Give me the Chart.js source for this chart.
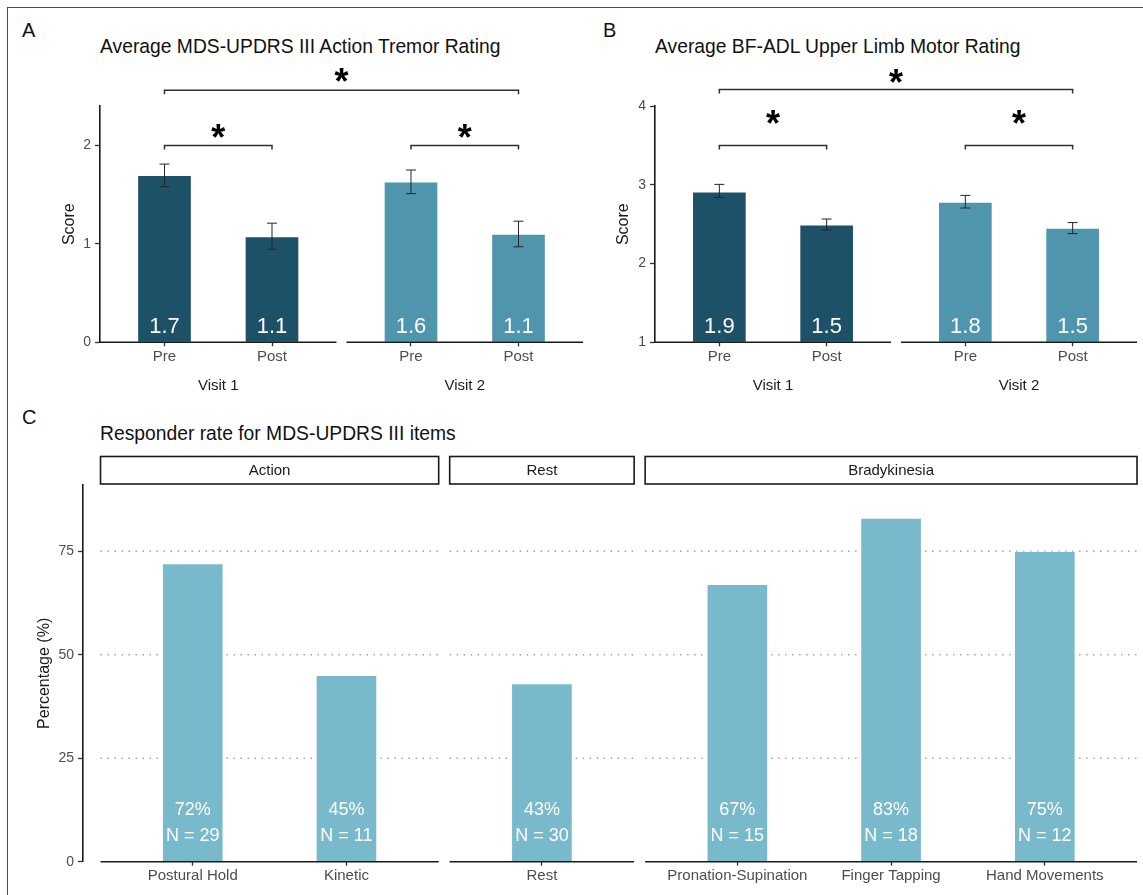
<!DOCTYPE html>
<html><head><meta charset="utf-8">
<script src="https://cdn.jsdelivr.net/npm/chart.js@4.4.1/dist/chart.umd.min.js"></script>
<style>
html,body{margin:0;padding:0;background:#fff;width:1143px;height:895px;overflow:hidden;font-family:"Liberation Sans",Arial,sans-serif;}
#frame{position:absolute;left:7px;top:7px;width:1300px;height:1000px;border-left:1.5px solid #2f5b47;border-top:1.5px solid #2f5b47;}
canvas{position:absolute;}
.lbl{position:absolute;font-size:20px;line-height:20px;color:#111;white-space:nowrap;}
.ttl{position:absolute;font-size:19.3px;line-height:19px;color:#111;white-space:nowrap;}
</style></head><body>
<div id="frame"></div>
<div class="lbl" style="left:22px;top:20px">A</div>
<div class="ttl" style="left:100px;top:37px">Average MDS-UPDRS III Action Tremor Rating</div>
<div class="lbl" style="left:603px;top:20px">B</div>
<div class="ttl" style="left:655px;top:37px">Average BF-ADL Upper Limb Motor Rating</div>
<div class="lbl" style="left:22px;top:407px">C</div>
<div class="ttl" style="left:100px;top:424px">Responder rate for MDS-UPDRS III items</div>
<canvas id="cA" width="590" height="400" style="left:0;top:0"></canvas>
<canvas id="cB" width="558" height="400" style="left:585px;top:0"></canvas>
<canvas id="cC" width="1143" height="495" style="left:0;top:400px"></canvas>
<script>
// ---------------- data ----------------
const visitFacets = ['Visit 1', 'Visit 2'];
const visitCats = ['Pre', 'Post'];

// Panel A: MDS-UPDRS III action tremor
const meanA  = [1.695, 1.075, 1.63, 1.10];
const errLoA = [1.58, 0.945, 1.51, 0.97];
const errHiA = [1.81, 1.21, 1.75, 1.23];
const textA  = ['1.7', '1.1', '1.6', '1.1'];
const yTicksA = [0, 1, 2];
const bracketsA = [
  {from: 0, to: 1, y: 2.0, ly: 2.15, text: '*'},
  {from: 2, to: 3, y: 2.0, ly: 2.15, text: '*'},
  {from: 0, to: 3, y: 2.56, ly: 2.71, text: '*'}
];

// Panel B: BF-ADL upper limb
const meanB  = [2.91, 2.49, 2.78, 2.45];
const errLoB = [2.84, 2.425, 2.705, 2.38];
const errHiB = [3.005, 2.565, 2.865, 2.52];
const textB  = ['1.9', '1.5', '1.8', '1.5'];
const yTicksB = [1, 2, 3, 4];
const bracketsB = [
  {from: 0, to: 1, y: 3.5, ly: 3.855, text: '*'},
  {from: 2, to: 3, y: 3.5, ly: 3.855, text: '*'},
  {from: 0, to: 3, y: 4.21, ly: 4.38, text: '*'}
];

// Panel C: responder rates
const facetsC = ['Action', 'Rest', 'Bradykinesia'];
const catsC = [['Postural Hold', 'Kinetic'], ['Rest'], ['Pronation-Supination', 'Finger Tapping', 'Hand Movements']];
const pctC = [72, 45, 43, 67, 83, 75];
const nC   = [29, 11, 30, 15, 18, 12];
const yTicksC = [0, 25, 50, 75];
const gridC = [25, 50, 75];

// ---------------- helpers ----------------
const FONT = "'Liberation Sans', Arial, sans-serif";
const EXP = 0.6;
const DARK = '#1d5168', LIGHT = '#5095ae', TEAL = '#78bacb';

function facetLayout(facetCats, lead, gap) {
  let x = lead; const pos = [], fr = [];
  facetCats.forEach((cats, f) => {
    if (f > 0) x += gap;
    const s = x;
    cats.forEach((c, i) => pos.push(s + EXP + i));
    x = s + cats.length - 1 + 2 * EXP;
    fr.push({start: s, end: x});
  });
  return {pos, fr, end: x};
}

function makeFacetPlugin(o, L) {
  return {
    id: 'facet',
    beforeDatasetsDraw(chart) {
      const {ctx, scales: {x, y}} = chart;
      if (o.grid) {
        ctx.save();
        ctx.strokeStyle = '#9c9c9c'; ctx.lineWidth = 1.4; ctx.setLineDash([1.4, 5.6]);
        L.fr.forEach(f => {
          const x0 = x.getPixelForValue(f.start), x1 = x.getPixelForValue(f.end);
          o.grid.forEach(g => {
            const py = y.getPixelForValue(g);
            ctx.beginPath(); ctx.moveTo(x0, py); ctx.lineTo(x1, py); ctx.stroke();
          });
        });
        ctx.restore();
      }
    },
    afterDatasetsDraw(chart) {
      const {ctx, chartArea: ca, scales: {x, y}} = chart;
      ctx.save();
      // error bars
      if (o.errLo) {
        ctx.strokeStyle = '#262626'; ctx.lineWidth = 1;
        o.errLo.forEach((lo, i) => {
          const px = x.getPixelForValue(L.pos[i]);
          const y0 = y.getPixelForValue(lo), y1 = y.getPixelForValue(o.errHi[i]);
          ctx.beginPath();
          ctx.moveTo(px, y0); ctx.lineTo(px, y1);
          ctx.moveTo(px - 5, y0); ctx.lineTo(px + 5, y0);
          ctx.moveTo(px - 5, y1); ctx.lineTo(px + 5, y1);
          ctx.stroke();
        });
      }
      // bar texts
      ctx.fillStyle = '#ffffff'; ctx.textAlign = 'center'; ctx.textBaseline = 'middle';
      if (o.barText) {
        ctx.font = '22px ' + FONT;
        o.barText.forEach((t, i) => ctx.fillText(t, x.getPixelForValue(L.pos[i]), ca.bottom - 15.6));
      }
      if (o.pct) {
        ctx.font = '18px ' + FONT;
        o.pct.forEach((p, i) => {
          const px = x.getPixelForValue(L.pos[i]);
          ctx.fillText(p + '%', px, ca.bottom - 51.7);
          ctx.fillText('N = ' + o.n[i], px, ca.bottom - 26);
        });
      }
      // x axis segments per facet
      ctx.strokeStyle = '#1a1a1a'; ctx.lineWidth = 1.6;
      L.fr.forEach(f => {
        ctx.beginPath();
        ctx.moveTo(x.getPixelForValue(f.start), ca.bottom);
        ctx.lineTo(x.getPixelForValue(f.end), ca.bottom);
        ctx.stroke();
      });
      // facet labels
      ctx.fillStyle = '#1a1a1a'; ctx.font = '15px ' + FONT;
      o.facets.forEach((lab, f) => {
        const x0 = x.getPixelForValue(L.fr[f].start), x1 = x.getPixelForValue(L.fr[f].end);
        if (o.strip) {
          ctx.lineWidth = 1.6; ctx.strokeStyle = '#1a1a1a';
          ctx.strokeRect(x0, ca.top - 28.5, x1 - x0, 27.5);
          ctx.fillText(lab, (x0 + x1) / 2, ca.top - 14.5);
        } else {
          ctx.fillText(lab, (x0 + x1) / 2, ca.bottom + 43.4);
        }
      });
      // significance brackets
      if (o.brackets) {
        o.brackets.forEach(b => {
          const xa = x.getPixelForValue(L.pos[b.from]), xb = x.getPixelForValue(L.pos[b.to]);
          const py = y.getPixelForValue(b.y);
          ctx.strokeStyle = '#303030'; ctx.lineWidth = 1.5;
          ctx.beginPath();
          ctx.moveTo(xa, py + 4); ctx.lineTo(xa, py); ctx.lineTo(xb, py); ctx.lineTo(xb, py + 4);
          ctx.stroke();
          ctx.font = 'bold 36px ' + FONT;
          ctx.fillStyle = '#000';
          ctx.textBaseline = 'alphabetic';
          const m = ctx.measureText(b.text);
          const ly = y.getPixelForValue(b.ly);
          const base = ly + (m.actualBoundingBoxAscent - m.actualBoundingBoxDescent) / 2;
          ctx.fillText(b.text, (xa + xb) / 2, base);
          ctx.textBaseline = 'middle';
        });
      }
      ctx.restore();
    }
  };
}

function makeChart(id, o) {
  const L = facetLayout(o.facetCats, o.lead, o.gap);
  const labels = o.facetCats.flat();
  const data = o.values.map((v, i) => ({x: L.pos[i], y: v}));
  return new Chart(document.getElementById(id), {
    type: 'bar',
    data: {datasets: [{
      data, backgroundColor: o.colors, borderColor: 'rgba(255,255,255,0.35)', borderWidth: 1,
      barThickness: o.barPx, base: o.yMin
    }]},
    options: {
      responsive: false, animation: false,
      layout: {padding: o.padding},
      plugins: {legend: {display: false}, tooltip: {enabled: false}},
      scales: {
        x: {
          type: 'linear', min: 0, max: L.end, offset: false,
          afterBuildTicks: s => { s.ticks = L.pos.map(v => ({value: v})); },
          ticks: {callback: (v, i) => labels[i], font: {size: 15, family: FONT}, color: '#4d4d4d',
                  padding: o.xPad, maxRotation: 0, autoSkip: false},
          grid: {display: true, offset: false, drawOnChartArea: false, drawTicks: true, tickLength: 4, tickWidth: 1.3, tickColor: '#333'},
          border: {display: false},
          afterFit: s => { s.height = o.xAxisH; }
        },
        y: {
          min: o.yMin, max: o.yMax,
          afterBuildTicks: s => { s.ticks = o.yTicks.map(v => ({value: v})); },
          ticks: {font: {size: 14, family: FONT}, color: '#4d4d4d', padding: 4},
          grid: {display: true, offset: false, drawOnChartArea: false, drawTicks: true, tickLength: 5, tickWidth: 1.3, tickColor: '#333'},
          border: {display: true, color: '#1a1a1a', width: 1.6},
          title: {display: true, text: o.yTitle, font: {size: 16, family: FONT}, color: '#1a1a1a', padding: 0},
          afterFit: s => { s.width = o.yAxisW; }
        }
      }
    },
    plugins: [makeFacetPlugin(o, L)]
  });
}

Chart.defaults.font.family = FONT;

makeChart('cA', {
  facetCats: [visitCats, visitCats], facets: visitFacets, lead: 0, gap: 0.093,
  values: meanA, errLo: errLoA, errHi: errHiA, barText: textA, brackets: bracketsA,
  colors: [DARK, DARK, LIGHT, LIGHT], barPx: 54,
  yMin: 0, yMax: 2.4, yTicks: yTicksA, yTitle: 'Score',
  padding: {left: 60, right: 7, top: 106, bottom: 17.7}, yAxisW: 40, xAxisH: 40, xPad: 2
});

makeChart('cB', {
  facetCats: [visitCats, visitCats], facets: visitFacets, lead: 0, gap: 0.093,
  values: meanB, errLo: errLoB, errHi: errHiB, barText: textB, brackets: bracketsB,
  colors: [DARK, DARK, LIGHT, LIGHT], barPx: 54,
  yMin: 1, yMax: 4, yTicks: yTicksB, yTitle: 'Score',
  padding: {left: 29, right: 6, top: 106, bottom: 17.7}, yAxisW: 41, xAxisH: 40, xPad: 2
});

makeChart('cC', {
  facetCats: catsC, facets: facetsC, lead: 0.114, gap: 0.0716, strip: true, grid: gridC,
  values: pctC, pct: pctC, n: nC,
  colors: TEAL, barPx: 61,
  yMin: 0, yMax: 91, yTicks: yTicksC, yTitle: 'Percentage (%)',
  padding: {left: 35.4, right: 6, top: 85, bottom: 3.3}, yAxisW: 47.6, xAxisH: 30, xPad: 1
});
</script>
</body></html>
